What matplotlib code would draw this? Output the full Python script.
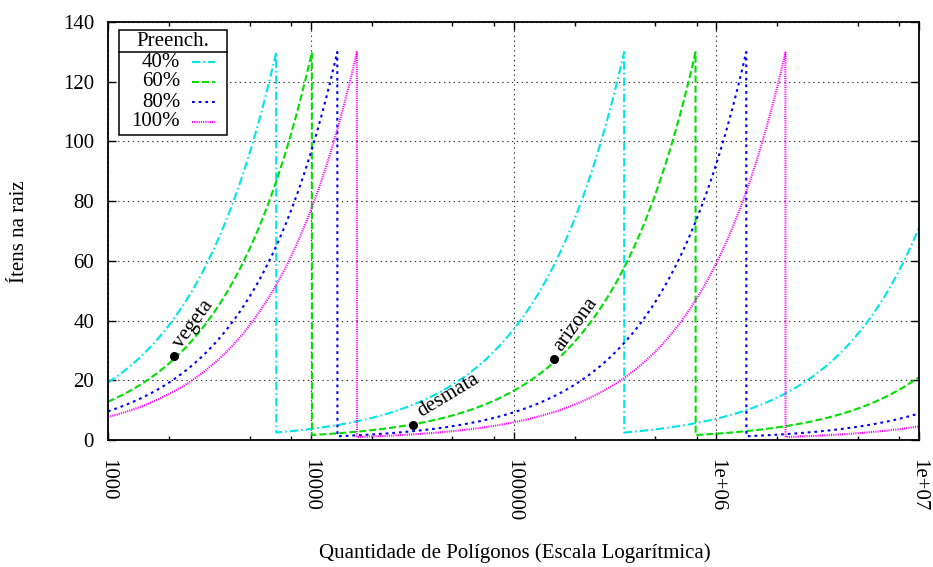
import numpy as np
import matplotlib
matplotlib.use('Agg')
import matplotlib.pyplot as plt
from matplotlib.lines import Line2D
from matplotlib.patches import Rectangle
from matplotlib.ticker import FixedLocator, NullFormatter, NullLocator

# fill levels and how many items a node holds at each level (node max = 130)
fill_labels = ['40%', '60%', '80%', '100%']
node_fanout = [52, 78, 104, 130]
max_root_items = 130
n_min, n_max = 1e3, 1e7

# datasets marked on the 60% curve
datasets = ['vegeta', 'desmata', 'arizona']
dataset_n = [2120, 31900, 158500]
dataset_root = [28, 5, 27]
label_angle = [54, 31, 54]

xtick_values = [1e3, 1e4, 1e5, 1e6, 1e7]
xtick_labels = ['1000', '10000', '100000', '1e+06', '1e+07']
ytick_values = [0, 20, 40, 60, 80, 100, 120, 140]

colors = ['#00e5e5', '#00e000', '#0000ff', '#ff00ff']
dashes = [(0, (6, 2.2, 1.2, 2.2)), (0, (5, 2.2)), (0, (2, 2.8)), (0, (0.8, 0.8))]

plt.rcParams['font.family'] = ['Liberation Serif', 'DejaVu Serif']
plt.rcParams['font.size'] = 15
plt.rcParams['lines.scale_dashes'] = False

fig = plt.figure(figsize=(9.33, 5.67), dpi=100)
ax = fig.add_axes([108 / 933, 1 - 440 / 567, 811 / 933, 418 / 567])

n = np.logspace(np.log10(n_min), np.log10(n_max), 6000)
for fanout, color, ls in zip(node_fanout, colors, dashes):
    root = n / fanout
    while (root > max_root_items).any():
        root = np.where(root > max_root_items, root / fanout, root)
    ax.plot(n, root, color=color, linestyle=ls, lw=1.5)

ax.plot(dataset_n, dataset_root, 'o', color='black', ms=5.5, zorder=5)
for name, x, y, ang in zip(datasets, dataset_n, dataset_root, label_angle):
    ax.annotate(name, (x, y), xytext=(8, 3), textcoords='offset points',
                rotation=ang, rotation_mode='anchor', ha='left', va='bottom')

ax.set_xscale('log')
ax.set_xlim(n_min, n_max)
ax.set_ylim(0, 140)
ax.xaxis.set_major_locator(FixedLocator(xtick_values))
ax.set_xticklabels(xtick_labels, rotation=270, va='top', ha='center')
ax.xaxis.set_minor_locator(FixedLocator([m * d for d in xtick_values[:-1] for m in (2, 5, 8)]))
ax.xaxis.set_minor_formatter(NullFormatter())
ax.set_yticks(ytick_values)
ax.yaxis.set_minor_locator(NullLocator())
ax.tick_params(which='both', direction='in', top=True, right=True, width=1)
ax.tick_params(which='major', length=5.8)
ax.tick_params(which='minor', length=2.9)
ax.tick_params(axis='x', pad=14)
ax.tick_params(axis='y', pad=10)
for s in ax.spines.values():
    s.set_linewidth(1.3)
ax.grid(True, which='major', color='0.2', linestyle=(0, (1, 2.5)), lw=0.8)

# legend box drawn by hand, gnuplot style
ax.add_patch(Rectangle((0.0136, 0.7297), 0.1328, 0.2513, transform=ax.transAxes,
                       facecolor='white', edgecolor='black', lw=1.1, zorder=6))
ax.add_line(Line2D([0.0136, 0.1464], [0.9282, 0.9282], transform=ax.transAxes,
                   color='black', lw=1.1, zorder=7))
ax.text(0.080, 0.9545, 'Preench.', transform=ax.transAxes, ha='center', va='center', zorder=7)
rows = [0.9043, 0.8565, 0.8086, 0.7608]
for lab, color, ls, yy in zip(fill_labels, colors, dashes, rows):
    ax.text(0.0888, yy, lab, transform=ax.transAxes, ha='right', va='center', zorder=7)
    ax.add_line(Line2D([0.1036, 0.1319], [yy, yy], transform=ax.transAxes,
                       color=color, linestyle=ls, lw=1.5, zorder=7))

fig.text(0.5515, 0.0247, 'Quantidade de Polígonos (Escala Logarítmica)', ha='center', va='center')
fig.text(0.0214, 0.591, 'Ítens na raiz', rotation=90, ha='center', va='center')

fig.savefig('out.png', dpi=100)
